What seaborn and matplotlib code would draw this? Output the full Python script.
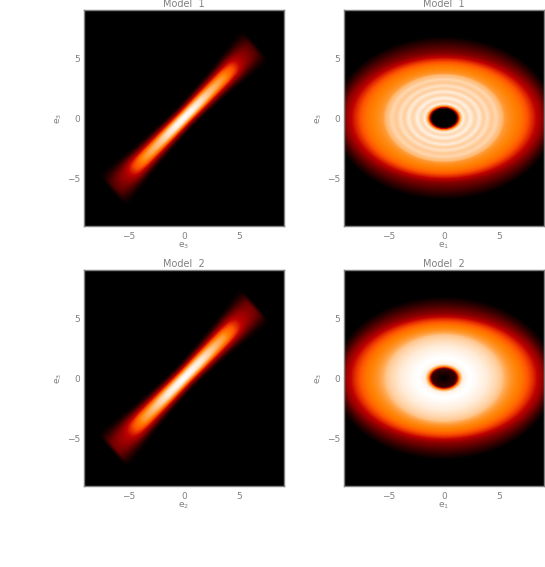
import numpy as np
import matplotlib
matplotlib.use('Agg')
import matplotlib.pyplot as plt
import seaborn as sns

# all profiles below (gist_heat scale 0..1)
ticks = [-5, 0, 5]
tick_labels = ['\u22125', '0', '5']
titles = ['Model  1', 'Model  1', 'Model  2', 'Model  2']
xlabels = ['e$_3$', 'e$_1$', 'e$_2$', 'e$_1$']
ylabels = ['e$_3$', 'e$_3$', 'e$_3$', 'e$_3$']

# streak panels: brightness and half width along the streak
along_s = [0, 1, 2, 3, 4, 5, 6, 7, 8, 8.5, 8.9]
peak_m1 = [1.0, 0.99, 0.95, 0.89, 0.84, 0.78, 0.65, 0.44, 0.30, 0.20, 0.0]
width_m1 = [0.37, 0.38, 0.40, 0.42, 0.44, 0.47, 0.52, 0.57, 0.62, 0.64, 0.66]
peak_m2 = [1.0, 0.99, 0.97, 0.92, 0.86, 0.80, 0.67, 0.48, 0.36, 0.30, 0.0]
width_m2 = [0.40, 0.41, 0.43, 0.45, 0.48, 0.51, 0.56, 0.61, 0.66, 0.68, 0.70]
across_t = [0, 0.5, 1.0, 1.5, 2.0, 2.5, 3.0]
across_v = [1.0, 0.97, 0.84, 0.60, 0.33, 0.10, 0.0]

# ring panels: brightness against radius measured on the x axis
ring_r = [0, 1.1, 1.2, 1.35, 1.5, 1.7, 2.05, 2.4, 2.8, 3.2, 3.55, 3.9, 4.3, 4.7, 5.0, 5.25, 5.5, 6.0, 6.5, 7.0, 7.5, 8.0, 8.5, 9.0, 9.5, 10.0]
ring_m1 = [0, 0, 0.3, 0.65, 0.84, 0.97, 0.92, 0.97, 0.91, 0.96, 0.90, 0.94, 0.89, 0.92, 0.88, 0.86, 0.80, 0.77, 0.75, 0.72, 0.66, 0.57, 0.46, 0.34, 0.14, 0]
ring_m2 = [0, 0.15, 0.45, 0.72, 0.86, 0.97, 0.99, 1.0, 0.99, 0.98, 0.97, 0.96, 0.94, 0.92, 0.90, 0.88, 0.84, 0.79, 0.76, 0.73, 0.67, 0.59, 0.48, 0.36, 0.14, 0]
# same levels measured on the y axis, x radius -> y radius
level_x = [0.01, 1.15, 5.25, 7, 8, 9, 9.5, 10, 14]
level_y = [0.01, 0.8, 3.6, 4.4, 4.9, 5.4, 6.2, 6.8, 10]

theta = np.radians(43.4)
n_x, n_y = 200, 216
x = (np.arange(n_x) + 0.5) / n_x * 18 - 9
y = 9 - (np.arange(n_y) + 0.5) / n_y * 18
xx, yy = np.meshgrid(x, y)


def streak(peak, width):
    s = np.abs(xx * np.cos(theta) + yy * np.sin(theta))
    t = np.abs(-xx * np.sin(theta) + yy * np.cos(theta))
    return np.interp(s, along_s, peak) * np.interp(t / np.interp(s, along_s, width), across_t, across_v)


def ring(profile):
    # find which ring each cell lies on
    lo = np.full(xx.shape, 0.01)
    hi = np.full(xx.shape, 14.0)
    for _ in range(30):
        mid = (lo + hi) / 2
        inside = (xx / mid) ** 2 + (yy / np.interp(mid, level_x, level_y)) ** 2 < 1
        hi = np.where(inside, mid, hi)
        lo = np.where(inside, lo, mid)
    return np.interp(hi, ring_r, profile)


panels = [streak(peak_m1, width_m1), ring(ring_m1), streak(peak_m2, width_m2), ring(ring_m2)]
boxes = [(84, 10), (344, 10), (84, 270), (344, 270)]

fig = plt.figure(figsize=(5.45, 5.67), dpi=100)
grey = '#808080'
for i in range(4):
    left, top = boxes[i]
    ax = fig.add_axes([left / 545, 1 - (top + 216) / 567, 200 / 545, 216 / 567])
    sns.heatmap(panels[i], cmap='gist_heat', vmin=0, vmax=1, cbar=False, ax=ax,
                xticklabels=False, yticklabels=False)
    ax.set_xticks([(v + 9) / 18 * n_x for v in ticks])
    ax.set_xticklabels(tick_labels, fontsize=6.5, color=grey)
    ax.set_yticks([(9 - v) / 18 * n_y for v in ticks])
    ax.set_yticklabels(tick_labels, fontsize=6.5, color=grey, rotation=0)
    ax.tick_params(axis='x', length=0, pad=4)
    ax.tick_params(axis='y', length=0, pad=3)
    ax.set_xlabel(xlabels[i], fontsize=6.5, color=grey, labelpad=0)
    ax.set_ylabel(ylabels[i], fontsize=6.5, color=grey, labelpad=2)
    ax.set_title(titles[i], fontsize=7, color=grey, pad=2)
    for spine in ax.spines.values():
        spine.set_visible(True)
        spine.set_color('#808080')
        spine.set_linewidth(1)

fig.savefig('out.png', dpi=100)
